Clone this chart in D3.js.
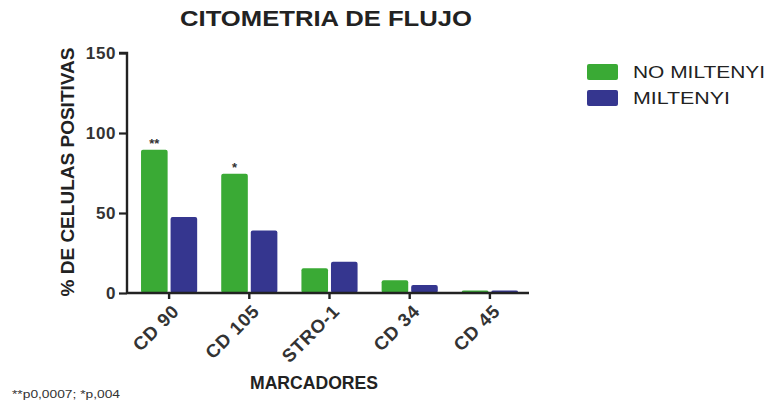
<!DOCTYPE html>
<html><head><meta charset="utf-8">
<script src="https://cdn.jsdelivr.net/npm/d3@7"></script>
<style>
body{margin:0;background:#fff;}
text{font-family:"Liberation Sans",Arial,sans-serif;}
</style></head>
<body><svg id="c" width="772" height="409"></svg>
<script>
const categories = ["CD 90","CD 105","STRO-1","CD 34","CD 45"];
const seriesNames = ["NO MILTENYI","MILTENYI"];
const noMiltenyi = [89.5, 74.5, 15.5, 8, 1.5];
const miltenyi = [47.5, 39, 19.5, 5, 1.5];
const significance = ["**","*","","",""];
const yTicks = [0,50,100,150];
const colors = ["#3aaa35","#35368f"];

const svg = d3.select("#c");
const x0 = 127, x1 = 529, yTop = 53, yBot = 293;
const x = d3.scaleBand().domain(categories).range([x0+2, x1+1]).paddingInner(0.3).paddingOuter(0.15);
const y = d3.scaleLinear().domain([0,150]).range([yBot, yTop]);
const xs = d3.scaleBand().domain(seriesNames).range([0, x.bandwidth()]).paddingInner(0.1);

const series = [noMiltenyi, miltenyi];
series.forEach((vals, si) => {
  svg.append("g").selectAll("rect").data(vals).join("rect")
    .attr("x", (d,i) => x(categories[i]) + xs(seriesNames[si]))
    .attr("y", d => y(d))
    .attr("width", xs.bandwidth())
    .attr("height", d => yBot - y(d))
    .attr("rx", 2)
    .attr("fill", colors[si]);
});

svg.append("g").selectAll("text").data(significance).join("text")
  .attr("x", (d,i) => x(categories[i]) + xs(seriesNames[0]) + xs.bandwidth()/2)
  .attr("y", (d,i) => y(noMiltenyi[i]) - 2)
  .attr("text-anchor","middle").attr("font-size",13).attr("font-weight","bold").attr("fill","#333")
  .text(d => d);

// Y axis
const ya = svg.append("g").attr("transform",`translate(${x0},0)`)
  .call(d3.axisLeft(y).tickValues(yTicks).tickSize(8).tickPadding(3));
ya.select(".domain").attr("stroke","#222").attr("stroke-width",2.4).attr("d",`M-8,${yTop}H0V${yBot}`);
ya.selectAll(".tick line").attr("stroke","#222").attr("stroke-width",2.2);
ya.selectAll(".tick text").attr("font-size",17).attr("font-weight","bold").attr("fill","#333")
  .attr("letter-spacing",0.6)
  .attr("font-family","'Liberation Sans',Arial,sans-serif");

// X axis
const xa = svg.append("g").attr("transform",`translate(0,${yBot})`)
  .call(d3.axisBottom(x).tickSize(6).tickSizeOuter(0));
xa.select(".domain").attr("stroke","#222").attr("stroke-width",2.4).attr("d",`M${x0},0H${x1}`);
xa.selectAll(".tick line").attr("stroke","#222").attr("stroke-width",2.4);
xa.selectAll(".tick text").attr("font-size",18.5).attr("font-weight","bold").attr("fill","#333")
  .attr("letter-spacing",0.8)
  .attr("font-family","'Liberation Sans',Arial,sans-serif")
  .attr("text-anchor","end").attr("dy",0)
  .attr("transform","translate(5,13) rotate(-45)");

// Titles
svg.append("text").attr("x",326).attr("y",26).attr("text-anchor","middle")
  .attr("font-size",22).attr("font-weight","bold").attr("fill","#222")
  .attr("textLength",292).attr("lengthAdjust","spacingAndGlyphs").text("CITOMETRIA DE FLUJO");
svg.append("text").attr("transform","translate(74,172) rotate(-90)").attr("text-anchor","middle")
  .attr("font-size",19).attr("font-weight","bold").attr("fill","#222")
  .attr("textLength",249).attr("lengthAdjust","spacingAndGlyphs").text("% DE CELULAS POSITIVAS");
svg.append("text").attr("x",314).attr("y",389).attr("text-anchor","middle")
  .attr("font-size",19).attr("font-weight","bold").attr("fill","#222")
  .attr("textLength",128).attr("lengthAdjust","spacingAndGlyphs").text("MARCADORES");
svg.append("text").attr("x",12).attr("y",398)
  .attr("font-size",11).attr("fill","#333")
  .attr("textLength",108).attr("lengthAdjust","spacingAndGlyphs").text("**p0,0007; *p,004");

// Legend
const lg = svg.append("g").selectAll("g").data(seriesNames).join("g")
  .attr("transform",(d,i)=>`translate(587,${64+i*26})`);
lg.append("rect").attr("width",31).attr("height",16).attr("rx",2).attr("fill",(d,i)=>colors[i]);
lg.append("text").attr("x",46).attr("y",14).attr("font-size",16).attr("fill","#222")
  .attr("textLength",(d,i)=> i===0 ? 132 : 97).attr("lengthAdjust","spacingAndGlyphs").text(d=>d);
</script></body></html>
